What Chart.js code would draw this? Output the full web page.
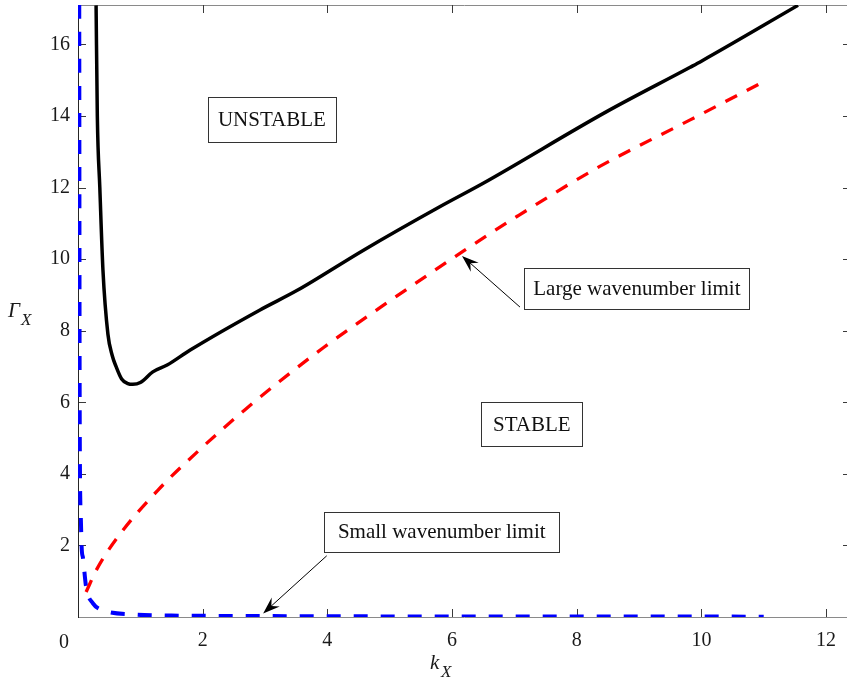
<!DOCTYPE html>
<html>
<head>
<meta charset="utf-8">
<script src="https://cdn.jsdelivr.net/npm/chart.js@4"></script>
<style>
  html, body { margin: 0; padding: 0; background: #fff; overflow: hidden; }
  #wrap { position: absolute; left: 0; top: 0; width: 870px; height: 686px; }
</style>
</head>
<body>
<div id="wrap"><canvas id="chart"></canvas></div>
<script>
// neutral stability curve (solid black)
var kCurve = [0.29, 0.31, 0.35, 0.40, 0.48, 0.55, 0.61, 0.70, 0.80, 0.88, 1.0, 1.2, 1.43, 1.8, 2.92, 3.51, 4.58, 5.81, 6.5, 8.48, 9.82, 10.0, 11.55];
var gCurve = [17.09, 14.0, 12.0, 9.7, 7.9, 7.3, 7.0, 6.65, 6.52, 6.5, 6.55, 6.85, 7.04, 7.46, 8.58, 9.12, 10.25, 11.47, 12.12, 14.12, 15.36, 15.53, 17.09];

// large wavenumber limit (red dashed)
var kLarge = [0.13, 0.3, 0.64, 1.28, 1.98, 2.67, 3.21, 3.94, 4.85, 6.18, 7.04, 8.37, 9.82, 10.98];
var gLarge = [0.70, 1.33, 2.24, 3.54, 4.72, 5.78, 6.55, 7.53, 8.65, 10.22, 11.19, 12.59, 13.89, 14.94];

// small wavenumber limit (blue dashed)
var kSmall = [0.02, 0.025, 0.03, 0.045, 0.06, 0.08, 0.13, 0.24, 0.35, 0.51, 0.89, 1.5, 2.5, 4, 7, 11];
var gSmall = [17.1, 8.0, 4.5, 2.8, 1.9, 1.65, 0.84, 0.38, 0.22, 0.13, 0.07, 0.04, 0.03, 0.02, 0.015, 0.01];

var xTicks = [0, 2, 4, 6, 8, 10, 12];
var yTicks = [2, 4, 6, 8, 10, 12, 14, 16];

function pts(xs, ys) {
  return xs.map(function(x, i) { return { x: x, y: ys[i] }; });
}

var serif = '"Liberation Serif", "DejaVu Serif", serif';

// text boxes and arrows, anchored in data coordinates
var boxes = [
  { text: 'UNSTABLE', x: 3.11, y: 13.89, w: 128, h: 45 },
  { text: 'STABLE', x: 7.28, y: 5.39, w: 101, h: 44 },
  { text: 'Large wavenumber limit', x: 8.965, y: 9.19, w: 225, h: 41 },
  { text: 'Small wavenumber limit', x: 5.835, y: 2.38, w: 235, h: 40 }
];
var arrows = [
  { from: [7.09, 8.66], to: [6.16, 10.09] },
  { from: [3.99, 1.71], to: [2.97, 0.10] }
];

var framePlugin = {
  id: 'frame',
  beforeDatasetsDraw: function(chart) {
    var c = chart.ctx, a = chart.chartArea;
    var xs = chart.scales.x, ys = chart.scales.y;
    c.save();
    c.lineWidth = 1;
    // top and bottom lines
    c.strokeStyle = '#8a8a8a';
    c.beginPath();
    c.moveTo(a.left, a.top + 0.5); c.lineTo(a.right, a.top + 0.5);
    c.moveTo(a.left, a.bottom + 0.5); c.lineTo(a.right, a.bottom + 0.5);
    c.stroke();
    // ticks
    c.strokeStyle = '#3a3a3a';
    c.beginPath();
    xTicks.forEach(function(v) {
      var px = Math.round(xs.getPixelForValue(v)) + 0.5;
      c.moveTo(px, a.bottom); c.lineTo(px, a.bottom - 8);
      c.moveTo(px, a.top); c.lineTo(px, a.top + 8);
    });
    yTicks.forEach(function(v) {
      var py = Math.round(ys.getPixelForValue(v)) + 0.5;
      c.moveTo(a.left, py); c.lineTo(a.left + 8, py);
      c.moveTo(a.right, py); c.lineTo(a.right - 8, py);
    });
    c.stroke();
    // left axis
    c.strokeStyle = '#262626';
    c.beginPath();
    c.moveTo(a.left + 0.5, a.top); c.lineTo(a.left + 0.5, a.bottom + 1);
    c.stroke();
    c.restore();
  },
  afterDatasetsDraw: function(chart) {
    var c = chart.ctx, a = chart.chartArea;
    var xs = chart.scales.x, ys = chart.scales.y;
    c.save();
    // boxes
    c.font = '21px ' + serif;
    c.textAlign = 'center';
    c.textBaseline = 'middle';
    boxes.forEach(function(b) {
      var cx = xs.getPixelForValue(b.x), cy = ys.getPixelForValue(b.y);
      var l = Math.round(cx - b.w / 2) + 0.5, t = Math.round(cy - b.h / 2) + 0.5;
      c.fillStyle = '#fff';
      c.fillRect(l, t, b.w, b.h);
      c.strokeStyle = '#333';
      c.lineWidth = 1;
      c.strokeRect(l, t, b.w, b.h);
      c.fillStyle = '#111';
      c.fillText(b.text, cx, cy + 1);
    });
    // arrows
    arrows.forEach(function(ar) {
      var x1 = xs.getPixelForValue(ar.from[0]), y1 = ys.getPixelForValue(ar.from[1]);
      var x2 = xs.getPixelForValue(ar.to[0]), y2 = ys.getPixelForValue(ar.to[1]);
      var dx = x2 - x1, dy = y2 - y1, len = Math.sqrt(dx * dx + dy * dy);
      var ux = dx / len, uy = dy / len, nx = -uy, ny = ux;
      var L = 17, W = 12;
      c.strokeStyle = '#000';
      c.lineWidth = 1;
      c.beginPath();
      c.moveTo(x1, y1); c.lineTo(x2 - ux * 8, y2 - uy * 8);
      c.stroke();
      c.fillStyle = '#000';
      c.beginPath();
      c.moveTo(x2, y2);
      c.lineTo(x2 - ux * L + nx * W / 2, y2 - uy * L + ny * W / 2);
      c.lineTo(x2 - ux * L * 0.65, y2 - uy * L * 0.65);
      c.lineTo(x2 - ux * L - nx * W / 2, y2 - uy * L - ny * W / 2);
      c.closePath();
      c.fill();
    });
    // "0" label at the corner
    c.fillStyle = '#1a1a1a';
    c.font = '20px ' + serif;
    c.textAlign = 'center';
    c.textBaseline = 'alphabetic';
    c.fillText('0', a.left - 14, 648);
    // axis titles
    c.textAlign = 'left';
    c.font = 'italic 21px ' + serif;
    c.fillText('\u0393', 8, 317);
    c.font = 'italic 17px ' + serif;
    c.fillText('X', 21, 325);
    c.font = 'italic 21px ' + serif;
    c.fillText('k', 430, 669);
    c.font = 'italic 17px ' + serif;
    c.fillText('X', 441, 677);
    c.restore();
  }
};

var config = {
  type: 'scatter',
  data: {
    datasets: [{
      label: 'Neutral curve',
      data: pts(kCurve, gCurve),
      showLine: true,
      borderColor: '#000',
      borderWidth: 3.5,
      pointRadius: 0,
      cubicInterpolationMode: 'monotone'
    }, {
      label: 'Large wavenumber limit',
      data: pts(kLarge, gLarge),
      showLine: true,
      borderColor: '#ff0000',
      borderWidth: 3.3,
      borderDash: [13, 11],
      pointRadius: 0,
      cubicInterpolationMode: 'monotone'
    }, {
      label: 'Small wavenumber limit',
      data: pts(kSmall, gSmall),
      showLine: true,
      borderColor: '#0000ff',
      borderWidth: 4,
      borderDash: [14, 13],
      pointRadius: 0,
      cubicInterpolationMode: 'monotone'
    }]
  },
  options: {
    responsive: true,
    maintainAspectRatio: false,
    animation: false,
    layout: { padding: { top: 5, right: 19, left: 0, bottom: 0 } },
    plugins: { legend: { display: false }, tooltip: { enabled: false } },
    scales: {
      x: {
        type: 'linear', min: 0, max: 12.4,
        grid: { display: false, drawTicks: false },
        border: { display: false },
        afterBuildTicks: function(s) { s.ticks = xTicks.map(function(v) { return { value: v }; }); },
        afterFit: function(s) { s.height = 69; s.paddingLeft = 0; s.paddingRight = 0; },
        ticks: {
          padding: 12,
          color: '#1a1a1a',
          font: { family: serif, size: 20 },
          callback: function(v) { return v === 0 ? '' : String(v); }
        }
      },
      y: {
        type: 'linear', min: 0, max: 17.1,
        grid: { display: false, drawTicks: false },
        border: { display: false },
        afterBuildTicks: function(s) { s.ticks = yTicks.map(function(v) { return { value: v }; }); },
        afterFit: function(s) { s.width = 78; s.paddingTop = 0; s.paddingBottom = 0; },
        ticks: {
          padding: 8,
          color: '#1a1a1a',
          font: { family: serif, size: 20 }
        }
      }
    }
  },
  plugins: [framePlugin]
};

window.onload = function() {
  var ctx = document.getElementById('chart').getContext('2d');
  window.myChart = new Chart(ctx, config);
};
</script>
</body>
</html>
